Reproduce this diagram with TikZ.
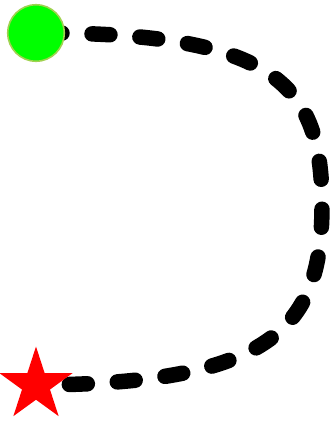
\documentclass[tikz,border=0pt]{standalone}
\usetikzlibrary{shapes.geometric,backgrounds}
\definecolor{ringcol}{RGB}{160,210,80}
\begin{document}
\begin{tikzpicture}[x=1pt,y=-1pt,
  startdot/.style={circle,fill={rgb,255:red,0;green,255;blue,0},draw=ringcol,line width=1.6pt,minimum size=56.5pt,inner sep=0pt},
  endstar/.style={star,star points=5,star point ratio=2.618,fill=red,draw=none,minimum size=77pt,inner sep=0pt},
  route/.style={line width=15.5pt,line cap=round,dash pattern=on 18pt off 30pt,dash phase=40pt}]
\useasboundingbox (0,0) rectangle (336,421);
\node[startdot] (c) at (36,33) {};
\node[endstar] (s) at (36,385) {};
\coordinate (m) at (322,205);
\begin{pgfonlayer}{background}
\draw[route] (c.center) .. controls (276,32) and (322,85) .. (m)
  .. controls (322,325) and (276,384) .. (s.center);
\end{pgfonlayer}
\end{tikzpicture}
\end{document}
